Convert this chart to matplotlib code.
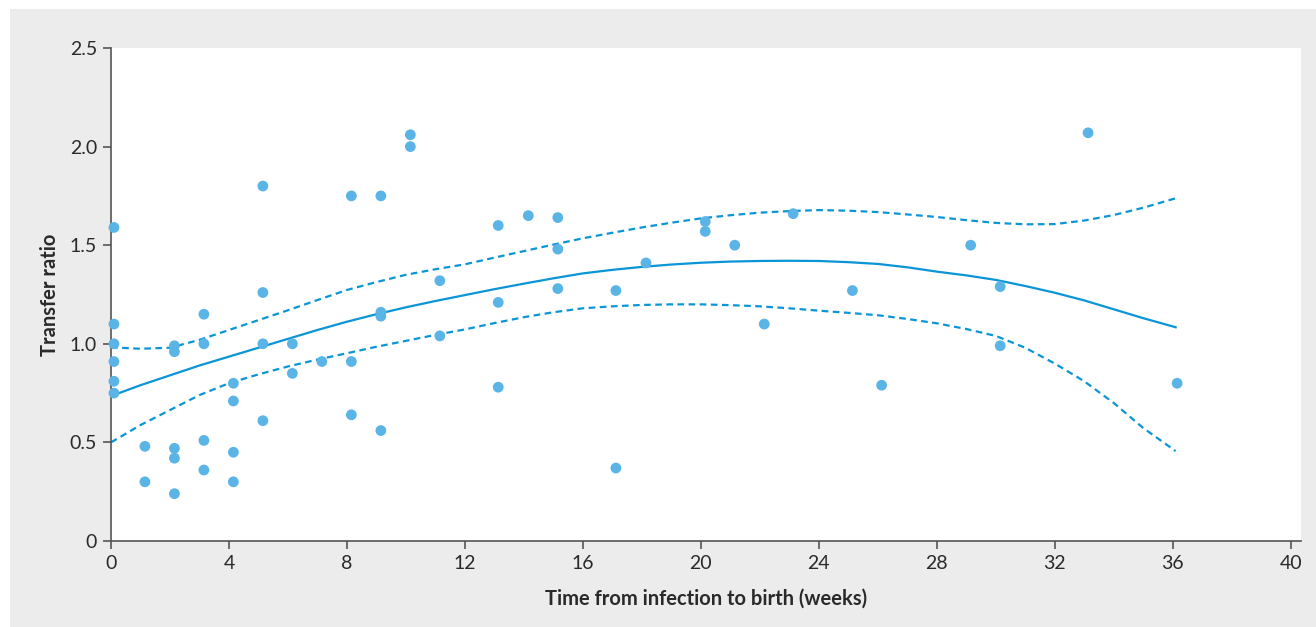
import numpy as np
import matplotlib.pyplot as plt
from matplotlib.patches import Rectangle

# weeks from infection to birth / transfer ratio (one entry per dot)
weeks = [0.1, 0.1, 0.1, 0.1, 0.1, 0.1,
         1.15, 1.15,
         2.15, 2.15, 2.15, 2.15, 2.15,
         3.15, 3.15, 3.15, 3.15,
         4.15, 4.15, 4.15, 4.15,
         5.15, 5.15, 5.15, 5.15,
         6.15, 6.15,
         7.15,
         8.15, 8.15, 8.15,
         9.15, 9.15, 9.15, 9.15,
         10.15, 10.15,
         11.15, 11.15,
         13.13, 13.13, 13.13,
         14.15,
         15.15, 15.15, 15.15,
         17.12, 17.12,
         18.14,
         20.15, 20.15,
         21.15,
         22.15,
         23.13,
         25.14,
         26.13,
         29.15,
         30.15, 30.15,
         33.13,
         36.15]
ratio = [1.59, 1.10, 1.00, 0.91, 0.81, 0.75,
         0.48, 0.30,
         0.99, 0.96, 0.47, 0.42, 0.24,
         1.15, 1.00, 0.51, 0.36,
         0.80, 0.71, 0.45, 0.30,
         1.80, 1.26, 1.00, 0.61,
         1.00, 0.85,
         0.91,
         1.75, 0.91, 0.64,
         1.75, 1.16, 1.14, 0.56,
         2.06, 2.00,
         1.32, 1.04,
         1.60, 1.21, 0.78,
         1.65,
         1.64, 1.48, 1.28,
         1.27, 0.37,
         1.41,
         1.62, 1.57,
         1.50,
         1.10,
         1.66,
         1.27,
         0.79,
         1.50,
         1.29, 0.99,
         2.07,
         0.80]

# fitted curve and confidence band
fit_x = [0, 1, 2, 3, 4, 5, 6, 7, 8, 9, 10, 11, 12, 13, 14, 15, 16, 17, 18, 19, 20, 21, 22, 23, 24,
         25, 26, 27, 28, 29, 30, 31, 32, 33, 34, 35, 36.1]
fit_mid = [0.735, 0.79, 0.84, 0.89, 0.935, 0.98, 1.025, 1.07, 1.112, 1.15, 1.185, 1.217, 1.247,
           1.277, 1.305, 1.332, 1.357, 1.375, 1.39, 1.402, 1.411, 1.417, 1.42, 1.421, 1.42,
           1.414, 1.405, 1.388, 1.366, 1.347, 1.324, 1.293, 1.259, 1.22, 1.175, 1.13, 1.084]
fit_hi = [0.982, 0.975, 0.98, 1.02, 1.07, 1.12, 1.17, 1.222, 1.273, 1.313, 1.35, 1.378, 1.403,
          1.437, 1.47, 1.503, 1.535, 1.563, 1.59, 1.614, 1.636, 1.652, 1.665, 1.673, 1.678,
          1.675, 1.668, 1.656, 1.643, 1.627, 1.613, 1.606, 1.607, 1.625, 1.653, 1.69, 1.738]
fit_lo = [0.50, 0.588, 0.664, 0.74, 0.80, 0.845, 0.885, 0.92, 0.952, 0.985, 1.015, 1.045, 1.073,
          1.105, 1.135, 1.16, 1.18, 1.19, 1.197, 1.2, 1.20, 1.196, 1.19, 1.18, 1.168,
          1.157, 1.145, 1.126, 1.104, 1.075, 1.04, 0.98, 0.90, 0.81, 0.70, 0.573, 0.456]

xticks = list(range(0, 41, 4))
yticks = [0, 0.5, 1.0, 1.5, 2.0, 2.5]
ytick_labels = ['0', '0.5', '1.0', '1.5', '2.0', '2.5']

plt.rcParams['font.family'] = ['Lato', 'DejaVu Sans']

grey = '#ebeceb'
dot_col = '#5ab4e5'
line_col = '#0a95d6'
axis_col = '#555555'

fig = plt.figure(figsize=(13.16, 6.27), dpi=100, facecolor='white')
fig.patches.append(Rectangle((10 / 1316, 0), 1 - 10 / 1316, 1 - 9 / 627,
                             transform=fig.transFigure, facecolor=grey,
                             edgecolor='none', zorder=-10))

ax = fig.add_axes([111 / 1316, 86 / 627, 1190 / 1316, 493 / 627])
ax.set_facecolor('white')

ax.plot(fit_x, fit_mid, color=line_col, lw=1.6, zorder=2)
ax.plot(fit_x, fit_hi, color=line_col, lw=1.6, ls=(0, (3, 2)), zorder=2)
ax.plot(fit_x, fit_lo, color=line_col, lw=1.6, ls=(0, (3, 2)), zorder=2)
ax.scatter(weeks, ratio, s=60, color=dot_col, edgecolors='none', zorder=3, clip_on=False)

ax.set_xlim(0, 40.35)
ax.set_ylim(0, 2.5)
ax.set_xticks(xticks)
ax.set_yticks(yticks)
ax.set_yticklabels(ytick_labels)

for s in ['top', 'right']:
    ax.spines[s].set_visible(False)
for s in ['left', 'bottom']:
    ax.spines[s].set_color(axis_col)
    ax.spines[s].set_linewidth(1.2)

ax.tick_params(direction='out', length=6, width=1.2, color=axis_col,
               labelsize=14, labelcolor='#2a2a2a', pad=4)

ax.set_xlabel('Time from infection to birth (weeks)', fontsize=14.5, fontweight='bold',
              color='#2a2a2a', labelpad=12)
ax.set_ylabel('Transfer ratio', fontsize=14.5, fontweight='bold', color='#2a2a2a', labelpad=7)

fig.savefig('out.png', dpi=100, facecolor=fig.get_facecolor())
